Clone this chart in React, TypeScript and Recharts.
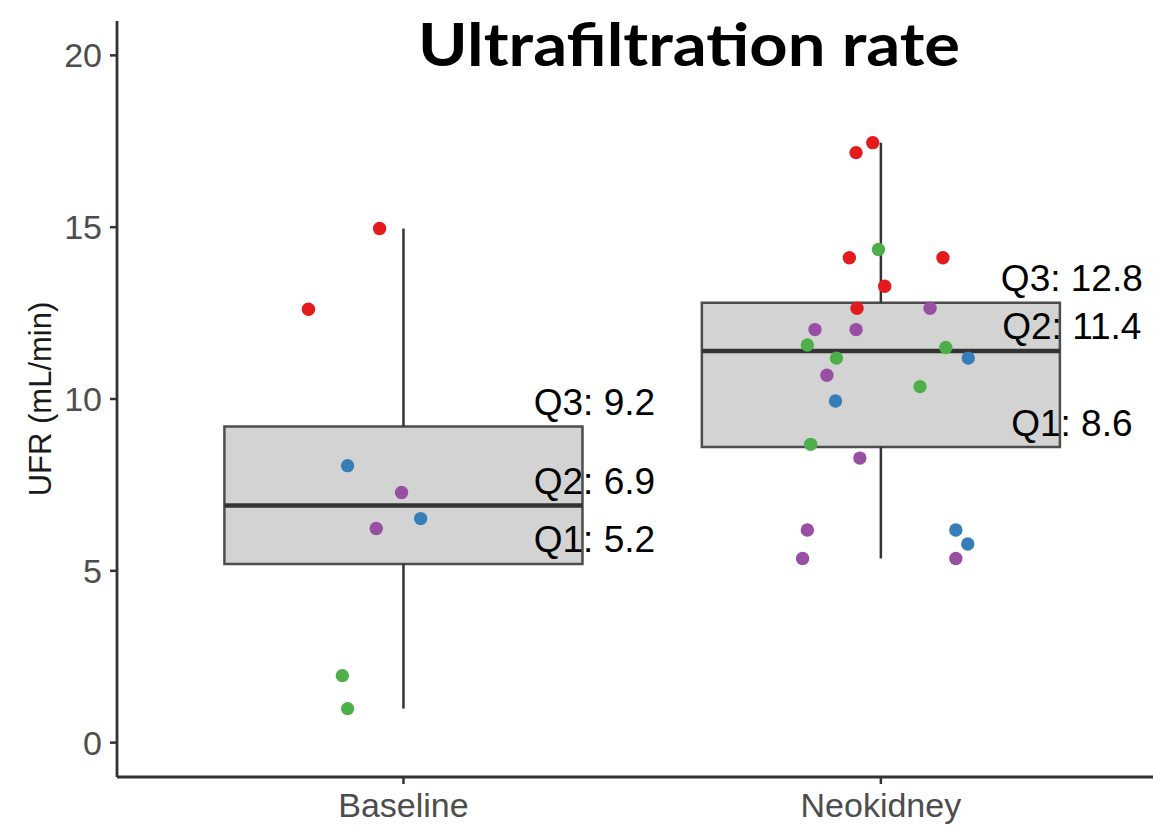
import React from "react";
import {
  ComposedChart,
  Scatter,
  XAxis,
  YAxis,
  ReferenceArea,
  ReferenceLine,
} from "recharts";

// categories
const groups = ["Baseline", "Neokidney"];

// box summary per category
const q1 = [5.2, 8.6];
const q2 = [6.9, 11.4];
const q3 = [9.2, 12.8];
const whiskerLow = [0.99, 5.36];
const whiskerHigh = [14.96, 17.46];

// y ticks
const yTicks = [0, 5, 10, 15, 20];

// jittered points (x = category position + jitter)
const baselineX = [0.801, 0.95, 0.883, 0.996, 0.943, 1.036, 0.872, 0.883];
const baselineY = [12.61, 14.96, 8.06, 7.28, 6.23, 6.52, 1.95, 0.99];
const baselineGroup = ["red", "red", "blue", "purple", "purple", "blue", "green", "green"];

const neoX = [
  1.983, 1.948, 1.995, 1.934, 2.13, 2.008, 1.95, 2.103, 1.862, 1.948, 1.846, 2.136,
  1.907, 2.183, 1.887, 2.082, 1.905, 1.853, 1.956, 1.846, 2.157, 2.182, 1.836, 2.157,
];
const neoY = [
  17.46, 17.17, 14.35, 14.11, 14.11, 13.28, 12.64, 12.64, 12.02, 12.02, 11.57, 11.5,
  11.19, 11.19, 10.69, 10.36, 9.94, 8.68, 8.28, 6.19, 6.19, 5.78, 5.36, 5.36,
];
const neoGroup = [
  "red", "red", "green", "red", "red", "red", "red", "purple", "purple", "purple", "green", "green",
  "green", "blue", "purple", "green", "blue", "green", "purple", "purple", "blue", "blue", "purple", "purple",
];

const COLORS: Record<string, string> = {
  red: "#E41A1C",
  blue: "#377EB8",
  green: "#4DAF4A",
  purple: "#984EA3",
};

const FONT = "'Liberation Sans', Arial, sans-serif";
const BOX_HALF = 0.375;
const AXIS_COLOR = "#333333";

const pointData = [
  ...baselineX.map((x, i) => ({ x, y: baselineY[i], c: baselineGroup[i] })),
  ...neoX.map((x, i) => ({ x, y: neoY[i], c: neoGroup[i] })),
];

const labelData = groups.flatMap((_, i) => [
  { x: i + 1.4, y: q3[i], text: `Q3: ${q3[i]}` },
  { x: i + 1.4, y: q2[i], text: `Q2: ${q2[i]}` },
  { x: i + 1.4, y: q1[i], text: `Q1: ${q1[i]}` },
]);

const Dot = (props: any) => (
  <circle cx={props.cx} cy={props.cy} r={6.7} fill={COLORS[props.payload.c]} />
);

const QLabel = (props: any) => (
  <text
    x={props.cx}
    y={props.cy - 24}
    textAnchor="middle"
    dominantBaseline="central"
    fontFamily={FONT}
    fontSize={37}
    fill="#000"
  >
    {props.payload.text}
  </text>
);

const YLabel = (props: any) => {
  const vb = props.viewBox || {};
  const cy = vb.y + vb.height / 2;
  return (
    <text
      x={40}
      y={cy}
      transform={`rotate(-90, 40, ${cy})`}
      textAnchor="middle"
      dominantBaseline="central"
      fontFamily={FONT}
      fontSize={31}
      fill="#1a1a1a"
    >
      UFR (mL/min)
    </text>
  );
};

export default function App() {
  return (
    <div
      style={{
        position: "absolute",
        left: 0,
        top: 0,
        width: 1153,
        height: 827,
        background: "#fff",
        overflow: "hidden",
      }}
    >
      <ComposedChart
        width={1153}
        height={827}
        margin={{ top: 21, right: 0, left: 0, bottom: 0 }}
      >
        <XAxis
          type="number"
          dataKey="x"
          domain={[0.4, 2.57]}
          ticks={[1, 2]}
          tickFormatter={(v: number) => groups[v - 1]}
          height={50}
          tickSize={7}
          tickMargin={9}
          axisLine={{ stroke: AXIS_COLOR, strokeWidth: 2.8 }}
          tickLine={{ stroke: AXIS_COLOR, strokeWidth: 2.5 }}
          tick={{ fill: "#4D4D4D", fontSize: 34, fontFamily: FONT }}
        />
        <YAxis
          type="number"
          dataKey="y"
          domain={[-1, 21]}
          ticks={yTicks}
          width={117}
          tickSize={7}
          tickMargin={8}
          axisLine={{ stroke: AXIS_COLOR, strokeWidth: 2.8 }}
          tickLine={{ stroke: AXIS_COLOR, strokeWidth: 2.5 }}
          tick={{ fill: "#4D4D4D", fontSize: 34, fontFamily: FONT }}
          label={<YLabel />}
        />

        {groups.map((g, i) => (
          <ReferenceLine
            key={`wh-${g}`}
            segment={[
              { x: i + 1, y: q3[i] },
              { x: i + 1, y: whiskerHigh[i] },
            ]}
            stroke={AXIS_COLOR}
            strokeWidth={2.5}
          />
        ))}
        {groups.map((g, i) => (
          <ReferenceLine
            key={`wl-${g}`}
            segment={[
              { x: i + 1, y: whiskerLow[i] },
              { x: i + 1, y: q1[i] },
            ]}
            stroke={AXIS_COLOR}
            strokeWidth={2.5}
          />
        ))}
        {groups.map((g, i) => (
          <ReferenceArea
            key={`box-${g}`}
            x1={i + 1 - BOX_HALF}
            x2={i + 1 + BOX_HALF}
            y1={q1[i]}
            y2={q3[i]}
            fill="#D3D3D3"
            fillOpacity={1}
            stroke="#4D4D4D"
            strokeWidth={2.5}
          />
        ))}
        {groups.map((g, i) => (
          <ReferenceLine
            key={`med-${g}`}
            segment={[
              { x: i + 1 - BOX_HALF, y: q2[i] },
              { x: i + 1 + BOX_HALF, y: q2[i] },
            ]}
            stroke="#333333"
            strokeWidth={4.5}
          />
        ))}

        <Scatter data={pointData} shape={Dot} isAnimationActive={false} />
        <Scatter data={labelData} shape={QLabel} isAnimationActive={false} />
      </ComposedChart>
      <svg
        width={1153}
        height={100}
        style={{ position: "absolute", left: 0, top: 0, pointerEvents: "none" }}
      >
        <text
          x={689}
          y={66}
          textAnchor="middle"
          fontFamily="Lato, 'Open Sans', sans-serif"
          fontWeight="bold"
          fontSize={60}
          textLength={542}
          lengthAdjust="spacingAndGlyphs"
          fill="#000"
        >
          Ultrafiltration rate
        </text>
      </svg>
    </div>
  );
}
